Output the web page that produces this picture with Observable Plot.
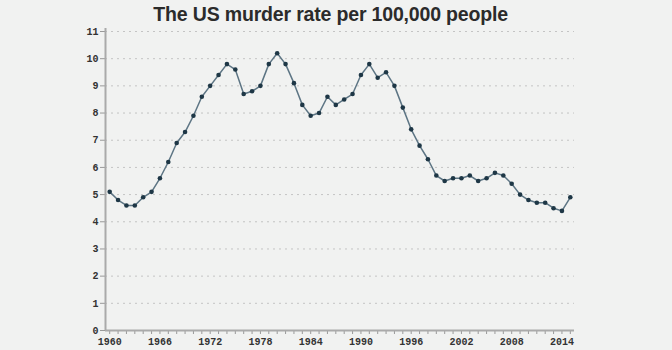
<!DOCTYPE html>
<html>
<head>
<meta charset="utf-8">
<script src="https://cdn.jsdelivr.net/npm/d3@7"></script>
<script src="https://cdn.jsdelivr.net/npm/@observablehq/plot@0.6"></script>
<style>
  html, body { margin: 0; padding: 0; background: #f1f2f1; }
  #wrap { width: 672px; height: 350px; background: #f1f2f1; overflow: hidden; }
  #title {
    width: 672px; height: 28px; line-height: 28px; box-sizing: border-box;
    padding-right: 10px; text-align: center;
  }
  #title span {
    display: inline-block; transform: scaleX(0.93); transform-origin: center;
    font-family: "Liberation Sans", Arial, sans-serif;
    font-weight: bold; font-size: 21px; color: #2b2b2b; letter-spacing: -0.2px;
  }
  svg { display: block; }
</style>
</head>
<body>
<div id="wrap">
  <div id="title"><span>The US murder rate per 100,000 people</span></div>
  <div id="chart"></div>
</div>
<script>
const years = [1960,1961,1962,1963,1964,1965,1966,1967,1968,1969,
  1970,1971,1972,1973,1974,1975,1976,1977,1978,1979,
  1980,1981,1982,1983,1984,1985,1986,1987,1988,1989,
  1990,1991,1992,1993,1994,1995,1996,1997,1998,1999,
  2000,2001,2002,2003,2004,2005,2006,2007,2008,2009,
  2010,2011,2012,2013,2014,2015];
const rates = [5.1,4.8,4.6,4.6,4.9,5.1,5.6,6.2,6.9,7.3,
  7.9,8.6,9.0,9.4,9.8,9.6,8.7,8.8,9.0,9.8,
  10.2,9.8,9.1,8.3,7.9,8.0,8.6,8.3,8.5,8.7,
  9.4,9.8,9.3,9.5,9.0,8.2,7.4,6.8,6.3,5.7,
  5.5,5.6,5.6,5.7,5.5,5.6,5.8,5.7,5.4,5.0,
  4.8,4.7,4.7,4.5,4.4,4.9];
const xLabelYears = [1960,1966,1972,1978,1984,1990,1996,2002,2008,2014];
const yTicks = [0,1,2,3,4,5,6,7,8,9,10,11];

const data = years.map((y, i) => ({year: y, rate: rates[i]}));
const tickFont = "'Liberation Mono', 'DejaVu Sans Mono', monospace";

const chart = Plot.plot({
  width: 672,
  height: 322,
  marginTop: 3,
  marginBottom: 20,
  marginLeft: 105,
  marginRight: 98,
  style: {background: "transparent", fontFamily: tickFont, fontSize: "10px", color: "#333", fontWeight: "bold"},
  x: {domain: [1959.5, 2015.5], label: null},
  y: {domain: [0, 11], label: null},
  marks: [
    Plot.gridY(yTicks.filter(d => d > 0), {stroke: "#c4c4c4", strokeOpacity: 1, strokeDasharray: "2,4", strokeWidth: 1}),
    Plot.axisX({ticks: years, tickFormat: d => xLabelYears.includes(d) ? String(d) : "", tickSize: 4, tickPadding: 3, stroke: "#999", label: null}),
    Plot.axisY({ticks: yTicks, tickSize: 5, tickPadding: 2, stroke: "#999", label: null}),
    Plot.ruleY([0], {x1: 1959.5, x2: 2015.5, stroke: "#aaa", strokeWidth: 2}),
    Plot.ruleX([1959.5], {y1: 0, y2: 11.2, stroke: "#aaa", strokeWidth: 2, clip: false}),
    Plot.line(data, {x: "year", y: "rate", stroke: "#5d7584", strokeWidth: 1.5}),
    Plot.dot(data, {x: "year", y: "rate", r: 2.3, fill: "#1e3746", stroke: "none"})
  ]
});
document.getElementById("chart").appendChild(chart);
</script>
</body>
</html>
